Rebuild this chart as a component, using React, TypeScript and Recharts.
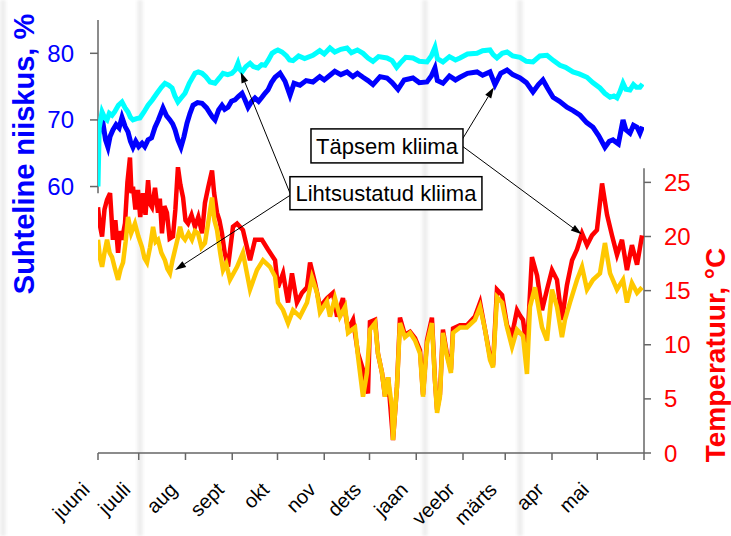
import { ComposedChart, Line, XAxis, YAxis, ReferenceLine, ReferenceDot, Label } from 'recharts';

// x = day counted from 1 June
const monthTicks = [3, 30, 61, 92, 122, 153, 183, 214, 245, 273, 304, 334, 365];
const monthNames = ['juuni', 'juuli', 'aug', 'sept', 'okt', 'nov', 'dets', 'jaan', 'veebr', 'märts', 'apr', 'mai', ''];
const humTicks = [60, 70, 80];
const tempTicks = [0, 5, 10, 15, 20, 25];

// relative humidity, simplified climate (cyan)
const cyanDay = [
  3, 3.8, 5.7, 7.5, 9, 10.5, 12.3, 14, 16.5, 18.9,
  21, 22.9, 24.5, 26.2, 28.5, 30.8, 33.5, 36.2, 39, 42.1,
  45, 47.4, 50, 52.1, 54, 56, 58.5, 60.7, 63.5, 67.3,
  69.5, 72, 74.5, 77.3, 80.6, 83.5, 85.9, 89, 91.8, 94,
  95.8, 97, 98.5, 101, 103.8, 106, 109.1, 111.5, 113.7, 116,
  118.4, 120.5, 122.3, 125, 128, 130, 132.3, 136, 140, 145.5,
  150, 153, 156.8, 160, 164, 168.1, 171, 175, 178.7, 182,
  185.3, 189, 194.6, 198, 201, 203.2, 207, 211.8, 216, 221.1,
  224, 226.4, 228, 231.7, 236, 240, 243, 248, 254.3, 258,
  262.9, 265, 267.5, 271, 274.2, 278, 282.8, 287, 291.4, 296,
  300.7, 305, 309.3, 313, 317.9, 322, 327.2, 331, 335.8, 339,
  342.5, 345, 347.1, 349, 351.1, 353, 355.7, 358, 360, 362.3,
  364,
];
const cyanHum = [
  60, 68.8, 71.2, 70.3, 70, 71, 70.7, 71.2, 72.2, 72.7,
  71.8, 71.2, 70.4, 70, 70.2, 70.3, 71.2, 72.2, 73, 74,
  74.9, 75.5, 75.2, 74.8, 73.6, 72.7, 73.4, 74, 75.5, 77,
  77.2, 77, 76.5, 75.7, 75.5, 76.3, 77, 76.8, 77, 77.5,
  78.5, 77.6, 77.2, 78, 78.5, 78, 77.8, 78.3, 78.2, 79,
  80, 80.3, 80.5, 80.2, 79.6, 79, 78.9, 79.6, 79.2, 79.7,
  80.4, 79.9, 80.8, 80.2, 80.6, 80.8, 80.1, 80.5, 80, 79.3,
  78.8, 79.5, 79.3, 78.9, 77.9, 78.5, 79.4, 79.3, 78.8, 78.7,
  79.6, 80.9, 79.2, 78.7, 79.5, 79, 79.3, 79.9, 80, 80.4,
  80.5, 79.8, 79.3, 80, 80.2, 79.6, 79.4, 78.8, 78.7, 79.6,
  79.7, 78.9, 78.2, 77.9, 77.2, 76.9, 76.4, 75.6, 74.8, 74,
  73.4, 73.6, 73.3, 74.2, 75.5, 74.6, 74.5, 75.3, 74.9, 74.9,
  75.4,
];

// relative humidity, detailed climate (blue)
const blueDay = [
  3, 4.5, 6.3, 8, 9.6, 11, 12.9, 15, 17, 18.9,
  21, 22.9, 24.5, 26.2, 28, 30, 32.2, 34, 36.2, 38.5,
  40.8, 43, 46.1, 48.5, 50.7, 52.5, 54.1, 56, 58, 60,
  62, 64, 66, 69, 72, 75, 77.3, 79, 80.6, 83,
  85.2, 87, 89.2, 91.5, 93.8, 96, 98.5, 100.5, 102.5, 105,
  107.1, 109.5, 111.7, 113.7, 115.7, 118, 120.4, 123.7, 127, 130.3,
  133, 136.9, 141, 145.5, 150, 153, 156.8, 160, 164, 168.1,
  172, 175, 178.7, 182, 185.3, 190, 194.6, 198, 201.9, 206,
  211.8, 216, 221.1, 224, 226.4, 228, 231.7, 236, 240, 243,
  248, 254.3, 258, 262.9, 266.2, 270, 274.2, 278, 282.8, 287,
  291.4, 295, 298, 301, 304.7, 309, 313.9, 318, 322.6, 327,
  331.2, 335, 339.1, 342, 344.4, 348, 351.1, 353, 355.7, 358,
  360.4, 362.3, 364,
];
const blueHum = [
  67.4, 69, 69.5, 67, 65.9, 67.5, 68.5, 69.3, 68.8, 70.4,
  69, 68.2, 66.8, 65.9, 66.8, 66, 66.5, 66, 67, 67.3,
  68.9, 70, 71.8, 70.6, 70, 69.4, 68.5, 67, 65.9, 67.5,
  69.5, 71, 72.2, 72.6, 72.5, 71.8, 71, 70.4, 70, 71.5,
  72.2, 71.6, 71.9, 72.8, 73, 73.5, 74, 73, 71.9, 72.8,
  73.3, 72.8, 73.4, 74, 74.5, 75.6, 76.4, 77, 75.8, 73.7,
  75.5, 75.2, 75.9, 75.7, 76.5, 76, 76.7, 77.3, 76.8, 77.2,
  76.5, 77, 76.4, 75.9, 75.3, 76.5, 76.3, 75.6, 74.6, 76,
  76.3, 75.6, 75.7, 76.6, 77.8, 75.9, 75.5, 76.6, 76, 76.4,
  77, 77.2, 76.7, 77.2, 75.3, 77, 77.5, 76.8, 76.3, 75.6,
  74.2, 75.3, 76, 74.8, 73.4, 72.8, 71.9, 71.4, 70.7, 69.6,
  68.9, 67.6, 65.9, 66.8, 67, 66.4, 70, 68.5, 68, 69.2,
  68.9, 68, 69,
];

// temperature, detailed climate (red)
const redDay = [
  3, 4.3, 5.7, 7.3, 9, 11, 12.9, 14.5, 16.3, 17.6,
  18.9, 20.9, 22.5, 24.2, 25.2, 26.2, 27.8, 29.5, 31, 32.8,
  34.5, 36.2, 37.5, 38.8, 40.8, 42.8, 44, 45.4, 47, 48.7,
  50.5, 52.7, 54.3, 56, 57.6, 59.4, 61, 62.7, 65, 67.3,
  69.5, 72, 73.9, 76, 78.6, 80, 81.9, 83.5, 85.2, 87,
  89.2, 92.5, 95.2, 99.1, 103.8, 107.1, 111.7, 115.7, 120.4, 122.3,
  125.7, 129, 131.6, 134.9, 138.3, 141.6, 143.6, 146.9, 150.2, 154.8,
  158.8, 161.5, 165.4, 168.8, 172.1, 175.4, 178.7, 182, 183.3, 186.7,
  188.6, 191.3, 193.3, 195.3, 198.6, 201.2, 203.2, 206.5, 209.9, 213.2,
  216.5, 218.5, 221.1, 224.4, 226.4, 227.8, 229.7, 231.7, 234.4, 237,
  238.4, 243, 247.6, 252.9, 256.3, 259.6, 262.9, 264.9, 267.5, 270.9,
  274.2, 277.5, 280.8, 282.8, 284.8, 287.4, 290.7, 294.1, 297.4, 300.7,
  304, 307.3, 310.6, 313.9, 317.3, 320.6, 323.9, 327.2, 330.5, 333.8,
  337.2, 340.5, 343.8, 347.1, 350.4, 353.7, 357, 360.4, 363.7,
];
const redTemp = [
  22.7, 21, 20, 22.5, 23.4, 24, 19.7, 21.5, 18.5, 20.5,
  19.7, 21.2, 25, 27.3, 24, 24.6, 22.5, 24.3, 21.8, 24,
  22, 25.2, 23, 22.7, 24.5, 22.2, 23.5, 20.3, 22.8, 22.2,
  19.8, 20, 22.5, 26.4, 24.8, 23.6, 21.5, 21.2, 22, 20.9,
  21.8, 20.3, 23.1, 24.5, 26.1, 24, 22.2, 21.5, 20.3, 18.5,
  17.2, 20.9, 21.2, 20.6, 17.8, 19.7, 19.7, 18.8, 17.8, 15.3,
  16.6, 13.9, 16.6, 13.9, 14.8, 15.3, 17.6, 15.7, 13.5, 14.3,
  14.8, 12.6, 14.3, 11.4, 12.3, 9.2, 7.7, 5.5, 12.1, 12.3,
  9.2, 7.4, 5.2, 7, 1.2, 6.1, 12.5, 10.9, 11.2, 10.6,
  9.5, 5.4, 10.4, 12.5, 6.7, 4, 5.4, 11.4, 9.1, 7.7,
  11.5, 11.8, 11.8, 12.6, 13.9, 11.4, 8.9, 8.1, 15.1, 14.6,
  11.8, 10.9, 13.2, 12.7, 12.3, 9.5, 18.1, 16.4, 13.2, 15.1,
  16.9, 16, 12.3, 15.5, 17.8, 18.8, 20.3, 19.2, 20.1, 20.6,
  24.9, 22, 20.1, 18.3, 19.7, 16.9, 19.2, 17.4, 20.1,
];

// temperature, simplified climate (yellow)
const yellowDay = [
  3, 4.3, 5.7, 7.3, 9, 10.7, 12.3, 14.3, 16.3, 18,
  19.6, 21.3, 22.9, 25, 27.5, 29.8, 32.2, 33.8, 35.5, 37.5,
  39.5, 41.2, 42.8, 45, 47.4, 49, 50.7, 52.4, 54.1, 55.8,
  57.4, 59, 60.7, 63, 65.3, 67.3, 69.3, 71.6, 73.9, 76.3,
  78.6, 80.2, 81.9, 84, 85.9, 88, 90.5, 95.2, 99.1, 103.8,
  108.4, 112.4, 117, 120.4, 122.3, 125.7, 129, 132.3, 136.9, 141.6,
  144.9, 148.2, 150.2, 154.8, 156.8, 160.1, 163.4, 166.8, 168.8, 173.4,
  175.4, 178.7, 181.3, 183.3, 186.7, 188.6, 191.3, 193.3, 195.3, 197.9,
  198.6, 201.2, 203.2, 206.5, 209.9, 213.2, 216.5, 218.5, 221.1, 224.4,
  226.4, 227.8, 229.7, 231.7, 234.4, 237, 238.4, 243, 247.6, 252.9,
  256.3, 259.6, 262.9, 264.9, 267.5, 270.9, 274.2, 277.5, 280.8, 284.8,
  287.4, 289.4, 292.7, 297.4, 300.7, 304, 307.3, 310.6, 312.6, 315.9,
  320.6, 323.9, 327.2, 331.2, 335.8, 339.1, 342.5, 347.1, 351.1, 353.7,
  357, 360.4, 363.7,
];
const yellowTemp = [
  19.7, 18, 17.2, 18.5, 19.7, 18.5, 18.1, 17, 16, 17,
  17.6, 19.5, 21.8, 20.3, 21.2, 20, 19, 18, 17.6, 19,
  20.9, 19.5, 19.7, 18.5, 17.8, 17, 16.6, 17.8, 18.8, 19.8,
  20.9, 20, 19.7, 20.3, 19.7, 20.5, 20.3, 19, 19.4, 21.5,
  23.6, 21.5, 20.6, 18.5, 16.9, 17.5, 16, 17.2, 18.5, 15.1,
  16.9, 17.8, 17.2, 16.3, 13.9, 13.2, 12, 13.2, 12.6, 13.9,
  16.2, 14.8, 13, 14, 12.6, 14.3, 12.6, 13.5, 11.1, 11.6,
  8.9, 5.2, 7.4, 11.4, 12, 9.2, 7.4, 5.2, 7, 4.2,
  1.2, 6.1, 12, 10.7, 11.1, 10.4, 9.2, 5.2, 10.1, 12,
  6.7, 3.7, 5.2, 11.1, 8.9, 7.4, 11.1, 11.6, 11.6, 12.3,
  13.5, 11.4, 8.6, 7.9, 14.4, 13.9, 11.6, 9.8, 11.4, 10.8,
  7.3, 13.5, 15.3, 11.6, 10.4, 15.1, 13.5, 10.7, 12.3, 13.9,
  16, 17.2, 15.1, 16, 16.6, 19.4, 16.6, 15.1, 16, 13.9,
  15.7, 14.8, 15.3,
];

const rows = (days: number[], vals: number[]) => days.map((d, i) => ({ day: d, v: vals[i] }));

const FONT = '"Liberation Sans", Arial, sans-serif';
const AXIS = '#666666';

const MonthTick = ({ x, y, payload }: any) => {
  const name = monthNames[monthTicks.indexOf(payload.value)] ?? '';
  return (
    <text transform={`translate(${x - 12},${y + 24}) rotate(-45)`} textAnchor="end" dy="0.35em"
      fontSize={20} fontFamily={FONT} fill="#000">
      {name}
    </text>
  );
};

const arrowShape = (p: any) => {
  const { x1, y1, x2, y2 } = p;
  const a = Math.atan2(y2 - y1, x2 - x1);
  const bx = x2 - 11 * Math.cos(a);
  const by = y2 - 11 * Math.sin(a);
  const nx = -Math.sin(a) * 3.5;
  const ny = Math.cos(a) * 3.5;
  return (
    <g>
      <line x1={x1} y1={y1} x2={bx} y2={by} stroke="#000" strokeWidth={1} />
      <polygon points={`${x2},${y2} ${bx + nx},${by + ny} ${bx - nx},${by - ny}`} fill="#000" />
    </g>
  );
};

const boxShape = (text: string, w: number, h: number) => (p: any) => (
  <g>
    <rect x={p.cx - w / 2} y={p.cy - h / 2} width={w} height={h} fill="#fff" stroke="#000" strokeWidth={1.5} />
    <text x={p.cx} y={p.cy} dy="0.35em" textAnchor="middle" fontSize={22} fontFamily={FONT} fill="#000">{text}</text>
  </g>
);

const stripes = [0, 137, 422, 517];

export default function App() {
  return (
    <div style={{ position: 'absolute', left: 0, top: 0, width: 731, height: 536, background: '#fff' }}>
      {stripes.map((s) => (
        <div key={s} style={{ position: 'absolute', left: s, top: 0, width: 6, height: 536, background: '#efefef', filter: 'blur(1.5px)' }} />
      ))}
      <div style={{ position: 'absolute', left: 0, top: 0 }}>
        <ComposedChart width={731} height={536} margin={{ top: 20, right: 27, bottom: 23, left: 0 }}>
          <XAxis type="number" dataKey="day" domain={[3, 365]} ticks={monthTicks} allowDataOverflow
            height={60} tick={<MonthTick />} tickSize={7} interval={0}
            axisLine={{ stroke: AXIS, strokeWidth: 1.5 }} tickLine={{ stroke: AXIS, strokeWidth: 1.5 }} />
          <YAxis yAxisId="hum" domain={[20, 85]} ticks={humTicks} width={98} axisLine={false}
            tickSize={8} tickMargin={16} tickLine={{ stroke: AXIS, strokeWidth: 1.5 }}
            tick={{ fill: '#0000ff', fontSize: 24, fontFamily: FONT }}>
            <Label content={() => (
              <text transform="translate(24,154) rotate(-90)" textAnchor="middle" dy="0.35em"
                fontSize={29} fontWeight="bold" fontFamily={FONT} fill="#0000ff">Suhteline niiskus, %</text>
            )} />
          </YAxis>
          <YAxis yAxisId="temp" orientation="right" domain={[0, 40]} ticks={tempTicks} width={60} axisLine={false}
            tickSize={7} tickMargin={13} tickLine={{ stroke: AXIS, strokeWidth: 1.5 }}
            tick={{ fill: '#ff0000', fontSize: 24, fontFamily: FONT }}>
            <Label content={() => (
              <text transform="translate(715,355) rotate(-90)" textAnchor="middle" dy="0.35em"
                fontSize={28} fontWeight="bold" fontFamily={FONT} fill="#ff0000">Temperatuur, °C</text>
            )} />
          </YAxis>

          <ReferenceLine yAxisId="hum" segment={[{ x: 3, y: 59 }, { x: 3, y: 85 }]} stroke={AXIS} strokeWidth={1.5} ifOverflow="visible" />
          <ReferenceLine yAxisId="temp" segment={[{ x: 365, y: 0 }, { x: 365, y: 26.3 }]} stroke={AXIS} strokeWidth={1.5} ifOverflow="visible" />

          <Line yAxisId="hum" data={rows(blueDay, blueHum)} dataKey="v" type="linear" stroke="#0000ff" strokeWidth={5} dot={false} isAnimationActive={false} />
          <Line yAxisId="hum" data={rows(cyanDay, cyanHum)} dataKey="v" type="linear" stroke="#00ffff" strokeWidth={5} dot={false} isAnimationActive={false} />
          <Line yAxisId="temp" data={rows(redDay, redTemp)} dataKey="v" type="linear" stroke="#ff0000" strokeWidth={4.5} dot={false} isAnimationActive={false} />
          <Line yAxisId="temp" data={rows(yellowDay, yellowTemp)} dataKey="v" type="linear" stroke="#ffc800" strokeWidth={4.5} dot={false} isAnimationActive={false} />

          <ReferenceLine yAxisId="hum" segment={[{ x: 130.3, y: 59 }, { x: 97.6, y: 77.2 }]} shape={arrowShape} ifOverflow="visible" />
          <ReferenceLine yAxisId="temp" segment={[{ x: 130.3, y: 23.8 }, { x: 54.1, y: 16.9 }]} shape={arrowShape} ifOverflow="visible" />
          <ReferenceLine yAxisId="hum" segment={[{ x: 244.3, y: 67 }, { x: 265.5, y: 74.9 }]} shape={arrowShape} ifOverflow="visible" />
          <ReferenceLine yAxisId="temp" segment={[{ x: 245, y: 28.3 }, { x: 323.7, y: 20.2 }]} shape={arrowShape} ifOverflow="visible" />

          <ReferenceDot yAxisId="hum" x={194.6} y={66.1} shape={boxShape('Täpsem kliima', 152, 34)} ifOverflow="visible" />
          <ReferenceDot yAxisId="temp" x={193.9} y={24} shape={boxShape('Lihtsustatud kliima', 192, 33)} ifOverflow="visible" />
        </ComposedChart>
      </div>
    </div>
  );
}
